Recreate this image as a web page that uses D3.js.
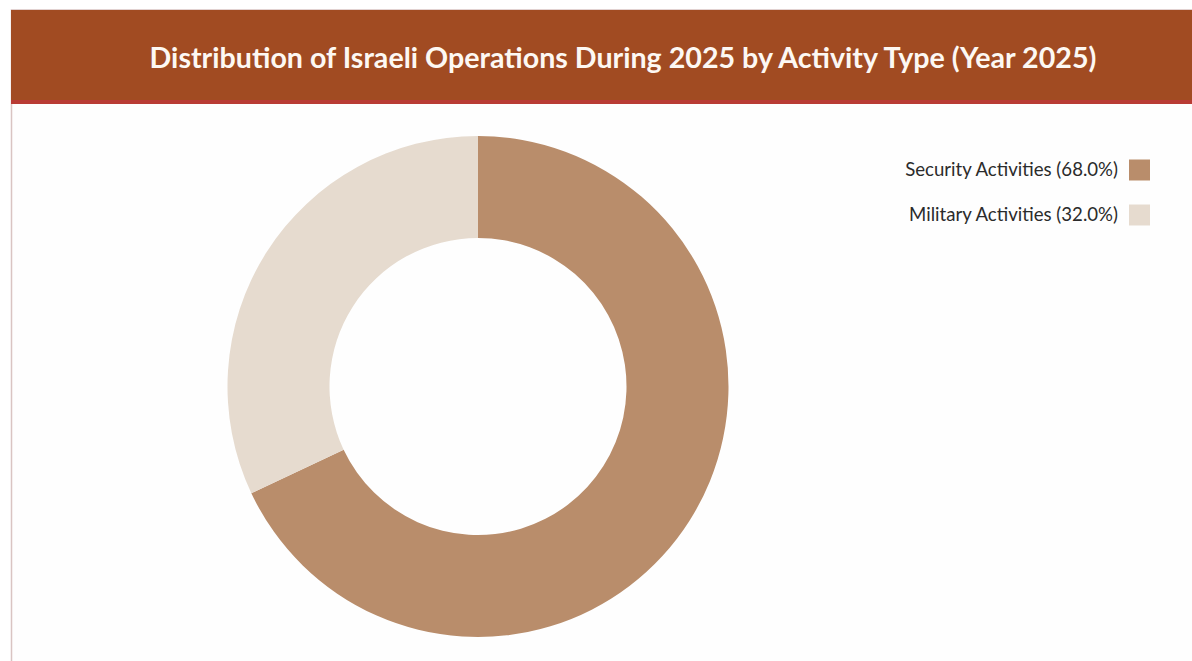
<!DOCTYPE html>
<html><head><meta charset="utf-8">
<script src="https://cdn.jsdelivr.net/npm/d3@7"></script>
<style>
html,body{margin:0;padding:0;background:#fff;}
svg{display:block;}
</style></head>
<body>
<svg id="chart" width="1192" height="661"></svg>
<script>
const title = "Distribution of Israeli Operations During 2025 by Activity Type (Year 2025)";
const categories = ["Security Activities", "Military Activities"];
const values = [68.0, 32.0];
const colors = ["#B98D6B", "#E6DBCF"];

const svg = d3.select("#chart");
const W = 1192, H = 661;

// panel
svg.append("rect").attr("x", 11.5).attr("y", 10).attr("width", W).attr("height", H)
  .attr("fill", "#fefefe").attr("stroke", "#d9c4c2").attr("stroke-width", 1.5);
// header
svg.append("rect").attr("x", 11).attr("y", 10).attr("width", W - 11).attr("height", 92).attr("fill", "#A14B22");
svg.append("rect").attr("x", 11).attr("y", 100).attr("width", W - 11).attr("height", 4).attr("fill", "#B93C35");

const t = svg.append("text").attr("x", 623).attr("y", 68).attr("text-anchor", "middle")
  .attr("fill", "#fdf8f3").attr("font-family", "Lato, 'Open Sans', sans-serif")
  .attr("font-weight", "bold").attr("font-size", 26).text(title);
const tw = t.node().getComputedTextLength();
t.attr("font-size", 26 * 947 / tw);

// donut
const cx = 478, cy = 386.5, rOuter = 250.5, rInner = 148.5;
const pie = d3.pie().sort(null).value(d => d.v);
const arcs = pie(categories.map((c, i) => ({c, v: values[i]})));
const arc = d3.arc().innerRadius(rInner).outerRadius(rOuter);
svg.append("g").attr("transform", `translate(${cx},${cy})`)
  .selectAll("path").data(arcs).join("path")
  .attr("d", arc).attr("fill", (d, i) => colors[i]);

// legend
const lg = svg.append("g");
let legendSize = 17.5;
categories.forEach((c, i) => {
  const y = 170 + i * 45;
  lg.append("rect").attr("x", 1129).attr("y", y - 10.5).attr("width", 21).attr("height", 21).attr("fill", colors[i]);
  const lt = lg.append("text").attr("x", 1118).attr("y", y + 6).attr("text-anchor", "end")
    .attr("fill", "#2b2b2b").attr("font-family", "Lato, 'Open Sans', sans-serif")
    .attr("font-size", legendSize).text(`${c} (${values[i].toFixed(1)}%)`);
  if (i === 0) {
    legendSize = 17.5 * 213 / lt.node().getComputedTextLength();
    lt.attr("font-size", legendSize);
  }
});
</script>
</body></html>
